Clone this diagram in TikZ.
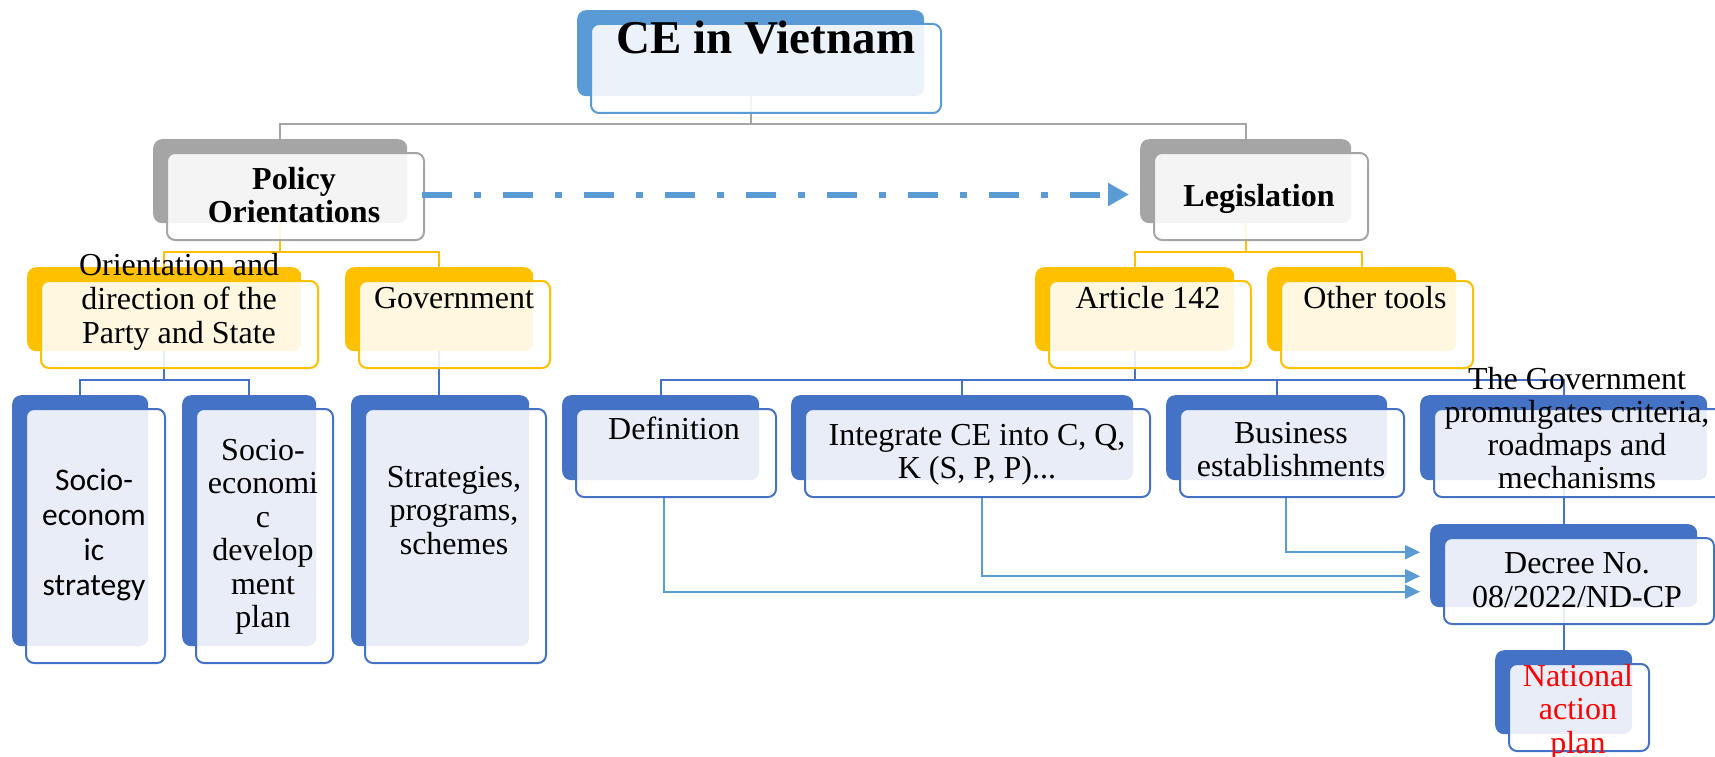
\documentclass[tikz,border=0pt]{standalone}
\usepackage{fontspec}
\setmainfont{Liberation Serif}
\newfontfamily\carlito{Carlito}
\usetikzlibrary{positioning}
\usetikzlibrary{arrows.meta}
\usetikzlibrary{calc}
\usetikzlibrary{backgrounds}

\definecolor{ceblue}{HTML}{5B9BD5}
\definecolor{cegrey}{HTML}{A5A5A5}
\definecolor{ceyellow}{HTML}{FFC000}
\definecolor{cedark}{HTML}{4472C4}

\begin{document}
\begin{tikzpicture}[x=1pt, y=-1pt,
    backbox/.style={rectangle, rounded corners=9pt, fill=#1, inner sep=0pt, anchor=north west},
    frontbox/.style={rectangle, rounded corners=8pt, draw=#1, line width=2pt, fill=white, fill opacity=0.88, inner sep=0pt, anchor=north west},
    txt/.style={anchor=north, align=center, inner sep=0pt, font=\fontsize{32}{33.5}\selectfont},
    boldtxt/.style={txt, font=\fontsize{32}{33}\selectfont\bfseries},
    sanstxt/.style={txt, font=\carlito\fontsize{31.5}{35}\selectfont},
    lineg/.style={draw=cegrey, line width=2pt},
    liney/.style={draw=ceyellow, line width=2pt},
    lineb/.style={draw=cedark, line width=2pt},
    linea/.style={draw=ceblue, line width=2pt, -{Triangle[length=15pt,width=14pt]}},
    dasharrow/.style={draw=ceblue, line width=6pt, dash pattern=on 30pt off 22pt on 7pt off 22pt, -{Triangle[length=21pt,width=22pt]}}]
    \useasboundingbox (0,0) rectangle (1715,757);

    % boxes: name/colour/x/y/width/height of the front box
    \foreach \n/\c/\x/\y/\w/\h in {ce/ceblue/590/23/350/89,
        pol/cegrey/166/152/257/87, leg/cegrey/1153/152/214/87,
        ori/ceyellow/40/280/277/87, gov/ceyellow/358/280/191/87,
        art/ceyellow/1048/280/202/87, oth/ceyellow/1280/280/192/87,
        se1/cedark/25/408/139/254, se2/cedark/195/408/137/254, se3/cedark/364/408/181/254,
        def/cedark/575/408/200/88, int/cedark/804/408/345/88,
        bus/cedark/1179/408/224/88, gp/cedark/1433/408/290/88,
        dec/cedark/1443/537/270/86, nat/cedark/1508/663/140/87}{
        \node[backbox=\c, minimum width={(\w-3)*1pt}, minimum height={(\h-3)*1pt}] (\n-b) at (\x-13,\y-13) {};
        \node[frontbox=\c, minimum width={\w*1pt}, minimum height={\h*1pt}] (\n) at (\x,\y) {};
    }

    % texts
    \node[txt, font=\fontsize{47}{50}\selectfont\bfseries] (ce-t) at (766,18) {\strut CE in Vietnam};
    \node[boldtxt] (pol-t) at (294,166) {\strut Policy\\Orientations};
    \node[boldtxt] (leg-t) at (1259,183) {\strut Legislation};
    \node[txt, font=\fontsize{32}{34}\selectfont] (ori-t) at (179,251.5) {\strut Orientation and\\direction of the\\Party and State};
    \node[txt] (gov-t) at (454,285) {\strut Government};
    \node[txt] (art-t) at (1148,285) {\strut Article 142};
    \node[txt] (oth-t) at (1375,285) {\strut Other tools};
    \node[sanstxt] (se1-t) at (94,465.5) {\strut Socio-\\econom\\ic\\strategy};
    \node[txt] (se2-t) at (263,436.5) {\strut Socio-\\economi\\c\\develop\\ment\\plan};
    \node[txt] (se3-t) at (454,463.5) {\strut Strategies,\\programs,\\schemes};
    \node[txt] (def-t) at (674,416) {\strut Definition};
    \node[txt] (int-t) at (977,421.5) {\strut Integrate CE into C, Q,\\K (S, P, P)...};
    \node[txt] (bus-t) at (1291,419.5) {\strut Business\\establishments};
    \node[txt, font=\fontsize{32}{33}\selectfont] (gp-t) at (1577,366) {\strut The Government\\promulgates criteria,\\roadmaps and\\mechanisms};
    \node[txt] (dec-t) at (1577,550) {\strut Decree No.\\08/2022/ND-CP};
    \node[txt, text=red] (nat-t) at (1578,662.5) {\strut National\\action\\plan};

    \draw[dasharrow] ($(pol.east)+(-3,-2)$) -- ($(pol.east -| leg-b.west)+(-11,-2)$);

    \begin{scope}[on background layer]
        \draw[lineg] (ce-b.south) -- ++(0,28) -| (pol-b.north);
        \draw[lineg] (ce-b.south) -- ++(0,28) -| (leg-b.north);
        \draw[liney] (pol-b.south) -- ++(0,29) -| (ori-b.north);
        \draw[liney] (pol-b.south) -- ++(0,29) -| (gov-b.north);
        \draw[liney] (leg-b.south) -- ++(0,29) -| (art-b.north);
        \draw[liney] (leg-b.south) -- ++(0,29) -| (oth-b.north);
        \draw[lineb] (ori-b.south) -- ++(0,29) -| (se1-b.north);
        \draw[lineb] (ori-b.south) -- ++(0,29) -| (se2-b.north);
        \draw[lineb] (gov-b.south) -- (gov-b.south |- se3-b.north);
        \foreach \k in {def,int,bus,gp}
            \draw[lineb] (art-b.south) -- ++(0,29) -| (\k-b.north);
        \draw[lineb] (dec-b.north |- gp-b.south) -- (dec-b.north);
        \draw[lineb] (dec-b.south) -- (dec-b.south |- nat-b.north);
    \end{scope}

    \draw[linea] ([xshift=-12pt]def.south) |- ($(dec-b.west)+(-10,26)$);
    \draw[linea] ([xshift=4.5pt]int.south) |- ($(dec-b.west)+(-10,10.5)$);
    \draw[linea] ([xshift=-6pt]bus.south) |- ($(dec-b.west)+(-10,-13.5)$);
\end{tikzpicture}
\end{document}
